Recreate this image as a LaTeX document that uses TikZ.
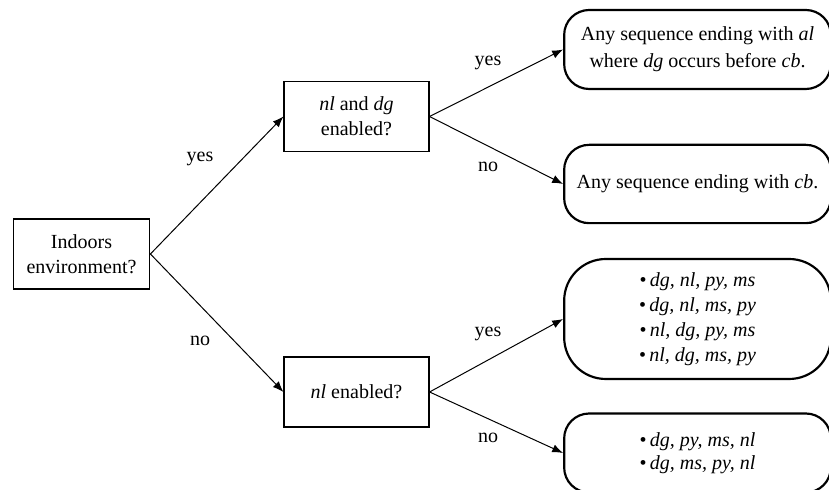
\documentclass[tikz,border=0pt]{standalone}
\usepackage{fontspec}
\setmainfont{Liberation Serif}
\usetikzlibrary{arrows.meta}
\newcommand*{\qw}{87pt}
\newcommand*{\qh}{42pt}
\newcommand*{\aw}{160pt}
\tikzset{
	question/.style={
		rectangle,
		draw=black,
		line width=0.7pt,
		minimum width=\qw,
		minimum height=\qh,
		align=center,
		inner sep=2pt
	},
	answer/.style n args={2}{
		rectangle,
		draw=black,
		line width=1.3pt,
		rounded corners=#2,
		minimum width=\aw,
		minimum height=#1,
		align=center,
		inner sep=2pt
	},
	branch/.style={
		-{Latex[length=6.5pt,width=5pt]},
		line width=0.6pt
	},
	choice/.style={
		inner sep=0pt
	}
}

\begin{document}
\begin{tikzpicture}[x=0.6pt,y=-0.6pt,font=\fontsize{12}{15}\selectfont]
	\useasboundingbox (0,0) rectangle (829,490);
	\clip (0,0) rectangle (829,490);
	% questions
	\node (indoors) [question,minimum width=82pt] at (81.5,254) {Indoors\\environment?};
	\node (nldg) [question] at (356.5,116.5) {\textit{nl} and \textit{dg}\\enabled?};
	\node (nl) [question] at (356.5,392) {\textit{nl} enabled?};
	% answers
	\node (seqal) [answer={47.4pt}{15pt},font=\fontsize{12}{16}\selectfont] at (697.5,49.5) {Any sequence ending with \textit{al}\\where \textit{dg} occurs before \textit{cb}.};
	\node (seqcb) [answer={47pt}{15pt}] at (697.5,184) {Any sequence ending with \textit{cb}.};
	\node (four) [answer={72pt}{25pt}] at (697.5,319) {\textbullet\,\textit{dg, nl, py, ms}\\\textbullet\,\textit{dg, nl, ms, py}\\\textbullet\,\textit{nl, dg, py, ms}\\\textbullet\,\textit{nl, dg, ms, py}};
	\node (two) [answer={47.4pt}{15pt},font=\fontsize{12}{13.5}\selectfont] at (697.5,453) {\textbullet\,\textit{dg, py, ms, nl}\\\textbullet\,\textit{dg, ms, py, nl}};
	% branches
	\draw [branch] (indoors.east) -- (nldg.west);
	\draw [branch] (indoors.east) -- (nl.west);
	\draw [branch] (nldg.east) -- (seqal.west);
	\draw [branch] (nldg.east) -- (seqcb.west);
	\draw [branch] (nl.east) -- (four.west);
	\draw [branch] (nl.east) -- (two.west);
	% labels
	\node (yes1) [choice] at (200,159) {yes};
	\node (no1) [choice] at (200,341) {no};
	\node (yes2) [choice] at (488,63) {yes};
	\node (no2) [choice] at (488,167) {no};
	\node (yes3) [choice] at (488,334) {yes};
	\node (no3) [choice] at (488,438) {no};
\end{tikzpicture}
\end{document}
